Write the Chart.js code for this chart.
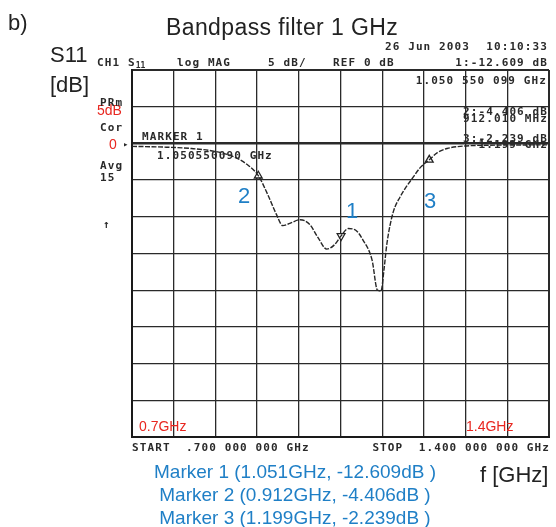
<!DOCTYPE html>
<html>
<head>
<meta charset="utf-8">
<script src="https://cdn.jsdelivr.net/npm/chart.js@4.4.1/dist/chart.umd.min.js"></script>
<style>
    body { margin: 0; background: #fff; }
    #wrap { position: relative; width: 556px; height: 527px; overflow: hidden; }
    #s11Chart { position: absolute; left: 0; top: 0; }
    .lbl { position: absolute; white-space: pre; font-family: "Liberation Sans", Arial, sans-serif; line-height: 1; color: #222; }
    .big { font-size: 22px; }
    .red { font-size: 14px; color: #e8261f; }
    .blue { color: #1f7fc6; }
    .mono { position: absolute; white-space: pre; font-family: "DejaVu Sans Mono", monospace; font-size: 11px; font-weight: bold; line-height: 11px; letter-spacing: 1.1px; color: #2a2a2a; }
    .mono sub { font-size: 8px; vertical-align: -2px; letter-spacing: 0; }
    #markerList { position: absolute; left: 145px; top: 460px; width: 300px; text-align: center; font-family: "Liberation Sans", Arial, sans-serif; font-size: 19px; line-height: 23px; color: #1f7fc6; white-space: pre; }
</style>
</head>
<body>
<div id="wrap">
    <canvas id="s11Chart" width="556" height="527"></canvas>

    <!-- annotations around the analyzer screen -->
    <div class="lbl big" style="left:8px; top:12px;">b)</div>
    <div class="lbl" style="left:166px; top:16px; font-size:23px; letter-spacing:0.4px;">Bandpass filter 1 GHz</div>
    <div class="lbl big" style="left:50px; top:44px;">S11</div>
    <div class="lbl big" style="left:50px; top:74px;">[dB]</div>
    <div class="lbl big" style="left:480px; top:464px;">f [GHz]</div>

    <div class="lbl red" style="left:97px; top:103px;">5dB</div>
    <div class="lbl red" style="left:109px; top:137px;">0</div>
    <div class="lbl red" style="left:139px; top:419px;">0.7GHz</div>
    <div class="lbl red" style="left:466px; top:419px;">1.4GHz</div>

    <div class="lbl big blue" style="left:238px; top:185px;">2</div>
    <div class="lbl big blue" style="left:346px; top:200px;">1</div>
    <div class="lbl big blue" style="left:424px; top:190px;">3</div>

    <!-- instrument screen text -->
    <div class="mono" style="left:97px; top:57px;">CH1 S<sub>11</sub></div>
    <div class="mono" style="left:177px; top:57px;">log MAG</div>
    <div class="mono" style="left:268px; top:57px;">5 dB/</div>
    <div class="mono" style="left:333px; top:57px;">REF 0 dB</div>
    <div class="mono" style="left:385px; top:41px;">26 Jun 2003</div>
    <div class="mono" style="right:8px; top:41px;">10:10:33</div>
    <div class="mono" style="right:8px; top:57px;">1:-12.609 dB</div>
    <div class="mono" style="right:9px; top:75px;">1.050 550 099 GHz</div>
    <div class="mono" style="right:8px; top:106px;">2:-4.406 dB</div>
    <div class="mono" style="right:8px; top:113px;">912.010 MHz</div>
    <div class="mono" style="right:8px; top:133px;">3:-2.239 dB</div>
    <div class="mono" style="right:8px; top:139px;">1.199 GHz</div>
    <div class="mono" style="left:100px; top:97px;">PRm</div>
    <div class="mono" style="left:100px; top:122px;">Cor</div>
    <div class="mono" style="left:142px; top:131px;">MARKER 1</div>
    <div class="mono" style="left:157px; top:150px;">1.050550090 GHz</div>
    <div class="mono" style="left:100px; top:160px;">Avg</div>
    <div class="mono" style="left:100px; top:172px;">15</div>
    <div class="mono" style="left:103px; top:219px;">↑</div>
    <div class="mono" style="left:123px; top:139px; font-size:9px;">▸</div>
    <div class="mono" style="left:132px; top:442px;">START  .700 000 000 GHz</div>
    <div class="mono" style="right:6px; top:442px;">STOP  1.400 000 000 GHz</div>

    <div id="markerList">Marker 1 (1.051GHz, -12.609dB )
Marker 2 (0.912GHz, -4.406dB )
Marker 3 (1.199GHz, -2.239dB )</div>
</div>

<script>
// S11 trace (GHz, dB)
const freqGHz = [0.700, 0.752, 0.800, 0.840, 0.870, 0.892, 0.912, 0.928, 0.942, 0.953,
                 0.965, 0.982, 0.998, 1.012, 1.027, 1.040, 1.051, 1.063, 1.075, 1.088,
                 1.103, 1.112, 1.118, 1.123, 1.128, 1.138, 1.150, 1.172, 1.185, 1.199,
                 1.212, 1.229, 1.251, 1.300, 1.400];
const s11dB = [-0.4, -0.5, -0.7, -1.1, -1.8, -2.8, -4.4, -7.0, -9.6, -11.2,
               -10.9, -10.4, -11.0, -12.8, -14.4, -13.8, -12.6, -11.6, -11.8, -13.2,
               -15.9, -20.0, -20.1, -17.2, -13.6, -9.5, -7.3, -4.6, -3.2, -2.24,
               -1.3, -0.7, -0.4, -0.25, -0.2];

// markers 1, 2, 3
const markerFreq = [1.051, 0.912, 1.199];
const markerDb = [-12.609, -4.406, -2.239];

// grid divisions: 0.07 GHz/div, 5 dB/div, REF 0 dB
const xTicks = [0.70, 0.77, 0.84, 0.91, 0.98, 1.05, 1.12, 1.19, 1.26, 1.33, 1.40];
const yTicks = [10, 5, 0, -5, -10, -15, -20, -25, -30, -35, -40];

const traceData = freqGHz.map((f, i) => ({ x: f, y: s11dB[i] }));
const markerData = markerFreq.map((f, i) => ({ x: f, y: markerDb[i] }));

function edgeWidth(ctx, edges) {
    const v = ctx.tick ? ctx.tick.value : null;
    if (edges.includes(v)) return 2;
    if (v === 0) return 2.4;
    return 1.3;
}

new Chart(document.getElementById('s11Chart'), {
    type: 'line',
    data: {
        datasets: [
            {
                label: 'S11',
                data: traceData,
                borderColor: '#262626',
                borderWidth: 1.4,
                borderDash: [5, 1.5],
                pointRadius: 0,
                cubicInterpolationMode: 'monotone',
                fill: false
            },
            {
                label: 'Markers',
                type: 'scatter',
                data: markerData,
                pointStyle: 'triangle',
                // active marker 1 points down, the others up
                rotation: ctx => (ctx.dataIndex === 0 ? 180 : 0),
                radius: 4.5,
                borderColor: '#222',
                backgroundColor: '#fff',
                borderWidth: 1.3
            }
        ]
    },
    options: {
        responsive: false,
        animation: false,
        layout: { padding: { left: 132, right: 7, top: 70, bottom: 90 } },
        plugins: {
            legend: { display: false },
            tooltip: { enabled: false }
        },
        scales: {
            x: {
                type: 'linear',
                min: 0.7,
                max: 1.4,
                afterBuildTicks: scale => { scale.ticks = xTicks.map(v => ({ value: v })); },
                afterFit: scale => { scale.height = 0; },
                ticks: { display: false },
                grid: {
                    drawTicks: false,
                    color: '#2a2a2a',
                    lineWidth: ctx => edgeWidth(ctx, [0.7, 1.4])
                },
                border: { display: true, color: '#1a1a1a', width: 2 }
            },
            y: {
                min: -40,
                max: 10,
                afterBuildTicks: scale => { scale.ticks = yTicks.map(v => ({ value: v })); },
                afterFit: scale => { scale.width = 0; },
                ticks: { display: false },
                grid: {
                    drawTicks: false,
                    color: '#2a2a2a',
                    lineWidth: ctx => edgeWidth(ctx, [10, -40])
                },
                border: { display: true, color: '#1a1a1a', width: 2 }
            }
        }
    }
});
</script>
</body>
</html>
